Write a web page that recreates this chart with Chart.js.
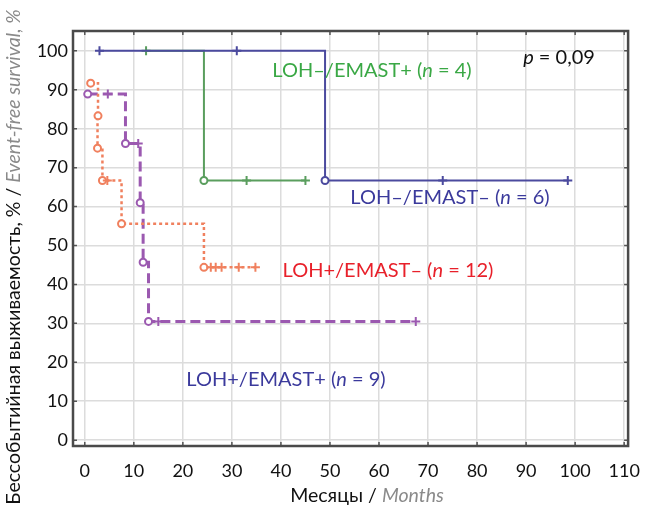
<!DOCTYPE html>
<html>
<head>
<meta charset="utf-8">
<script src="https://cdn.jsdelivr.net/npm/chart.js@4.4.1/dist/chart.umd.min.js"></script>
<style>
  body { margin: 0; background: #fff; }
  #wrap { width: 654px; height: 515px; }
</style>
</head>
<body>
<div id="wrap"><canvas id="km" width="654" height="515"></canvas></div>
<script>
// axis ticks
var xTicks = [0, 10, 20, 30, 40, 50, 60, 70, 80, 90, 100, 110];
var yTicks = [0, 10, 20, 30, 40, 50, 60, 70, 80, 90, 100];

// LOH-/EMAST- (n = 6)
var monthsA = [3, 31, 49, 73, 98.5];
var survA   = [100, 100, 66.7, 66.7, 66.7];
var eventA  = [0, 0, 1, 0, 0];

// LOH-/EMAST+ (n = 4)
var monthsB = [12.5, 24.3, 33, 45];
var survB   = [100, 66.7, 66.7, 66.7];
var eventB  = [0, 1, 0, 0];

// LOH+/EMAST- (n = 12)
var monthsC = [1.2, 2.7, 2.6, 3.6, 4.6, 7.5, 24.3, 25.7, 26.7, 27.9, 31.4, 34.8];
var survC   = [91.7, 83.3, 75, 66.7, 66.7, 55.6, 44.4, 44.4, 44.4, 44.4, 44.4, 44.4];
var eventC  = [1, 1, 1, 1, 0, 1, 1, 0, 0, 0, 0, 0];

// LOH+/EMAST+ (n = 9)
var monthsD = [0.6, 4.7, 8.3, 10.9, 11.3, 11.9, 13, 15, 67.5];
var survD   = [88.9, 88.9, 76.2, 76.2, 61, 45.7, 30.5, 30.5, 30.5];
var eventD  = [1, 0, 1, 0, 1, 1, 1, 0, 0];

var FONT = 'Lato, "Noto Sans", sans-serif';

function points(t, s) {
    return t.map(function (v, i) { return { x: v, y: s[i] }; });
}

function curve(t, s, ev, color, width, dash) {
    return {
        data: points(t, s),
        showLine: true,
        stepped: 'before',
        borderColor: color,
        borderWidth: width,
        borderDash: dash,
        backgroundColor: '#fff',
        pointStyle: ev.map(function (e) { return e ? 'circle' : 'cross'; }),
        pointRadius: ev.map(function (e) { return e ? 3.5 : 4.5; }),
        pointBorderColor: color,
        pointBackgroundColor: '#fff',
        pointBorderWidth: 2,
        pointHoverRadius: 0
    };
}

// writes a run of differently styled pieces, centred on cx
function runs(ctx, cx, cy, parts) {
    var total = 0;
    parts.forEach(function (p) { ctx.font = p.font; total += ctx.measureText(p.text).width; });
    var x = cx - total / 2;
    ctx.textBaseline = 'middle';
    ctx.textAlign = 'left';
    parts.forEach(function (p) {
        ctx.font = p.font;
        ctx.fillStyle = p.color;
        ctx.fillText(p.text, x, cy);
        x += ctx.measureText(p.text).width;
    });
}

var frame = {
    id: 'frame',
    afterDraw: function (chart) {
        var ctx = chart.ctx, a = chart.chartArea;
        var xs = chart.scales.x, ys = chart.scales.y;
        ctx.save();
        ctx.strokeStyle = '#555';
        ctx.lineWidth = 1.5;
        ctx.beginPath();
        xTicks.forEach(function (v) {
            var px = xs.getPixelForValue(v);
            ctx.moveTo(px, a.bottom); ctx.lineTo(px, a.bottom - 4);
            ctx.moveTo(px, a.top); ctx.lineTo(px, a.top + 4);
        });
        yTicks.forEach(function (v) {
            var py = ys.getPixelForValue(v);
            ctx.moveTo(a.left, py); ctx.lineTo(a.left + 4, py);
            ctx.moveTo(a.right, py); ctx.lineTo(a.right - 4, py);
        });
        ctx.stroke();
        ctx.lineWidth = 2.5;
        ctx.strokeStyle = '#4a4a4a';
        ctx.strokeRect(a.left, a.top, a.right - a.left, a.bottom - a.top);

        var reg = '20px ' + FONT, ita = 'italic 20px ' + FONT;
        runs(ctx, 372, 71, [
            { text: 'LOH\u2013/EMAST+ (', font: reg, color: '#3aa845' },
            { text: 'n', font: ita, color: '#3aa845' },
            { text: ' = 4)', font: reg, color: '#3aa845' }]);
        runs(ctx, 559, 58, [
            { text: 'p', font: ita, color: '#111' },
            { text: ' = 0,09', font: reg, color: '#111' }]);
        runs(ctx, 450, 198, [
            { text: 'LOH\u2013/EMAST\u2013 (', font: reg, color: '#3b3a9c' },
            { text: 'n', font: ita, color: '#3b3a9c' },
            { text: ' = 6)', font: reg, color: '#3b3a9c' }]);
        runs(ctx, 388, 271, [
            { text: 'LOH+/EMAST\u2013 (', font: reg, color: '#e8202a' },
            { text: 'n', font: ita, color: '#e8202a' },
            { text: ' = 12)', font: reg, color: '#e8202a' }]);
        runs(ctx, 286, 380, [
            { text: 'LOH+/EMAST+ (', font: reg, color: '#3b3a9c' },
            { text: 'n', font: ita, color: '#3b3a9c' },
            { text: ' = 9)', font: reg, color: '#3b3a9c' }]);

        // axis titles
        var treg = '19.5px ' + FONT, tita = 'italic 19.5px ' + FONT;
        runs(ctx, 367, 496, [
            { text: '\u041c\u0435\u0441\u044f\u0446\u044b / ', font: treg, color: '#111' },
            { text: 'Months', font: tita, color: '#8a8a8a' }]);
        ctx.translate(14, 257);
        ctx.rotate(-Math.PI / 2);
        runs(ctx, 0, 0, [
            { text: '\u0411\u0435\u0441\u0441\u043e\u0431\u044b\u0442\u0438\u0439\u043d\u0430\u044f \u0432\u044b\u0436\u0438\u0432\u0430\u0435\u043c\u043e\u0441\u0442\u044c, % / ', font: treg, color: '#111' },
            { text: 'Event-free survival, %', font: tita, color: '#8a8a8a' }]);
        ctx.restore();
    }
};

new Chart(document.getElementById('km'), {
    type: 'scatter',
    data: {
        datasets: [
            curve(monthsA, survA, eventA, '#4b4a9e', 2, []),
            curve(monthsB, survB, eventB, '#5a9e5e', 2, []),
            curve(monthsC, survC, eventC, '#f0805e', 2.5, [3, 3]),
            curve(monthsD, survD, eventD, '#9b59b0', 3, [10, 5])
        ]
    },
    options: {
        responsive: false,
        animation: false,
        layout: { padding: { left: 0, top: 31, right: 22, bottom: 0 } },
        plugins: { legend: { display: false }, tooltip: { enabled: false } },
        scales: {
            x: {
                type: 'linear',
                min: -2.4,
                max: 110.8,
                afterFit: function (s) { s.height = 69; },
                afterBuildTicks: function (s) { s.ticks = xTicks.map(function (v) { return { value: v }; }); },
                grid: { color: '#dcdcdc', lineWidth: 1.5, drawTicks: false },
                border: { display: false },
                ticks: { padding: 14, color: '#111', font: { family: FONT, size: 18 }, maxRotation: 0 }
            },
            y: {
                type: 'linear',
                min: -1.5,
                max: 105.1,
                afterFit: function (s) { s.width = 73; },
                afterBuildTicks: function (s) { s.ticks = yTicks.map(function (v) { return { value: v }; }); },
                grid: { color: '#dcdcdc', lineWidth: 1.5, drawTicks: false },
                border: { display: false },
                ticks: { padding: 5, color: '#111', font: { family: FONT, size: 18 } }
            }
        }
    },
    plugins: [frame]
});
</script>
</body>
</html>
